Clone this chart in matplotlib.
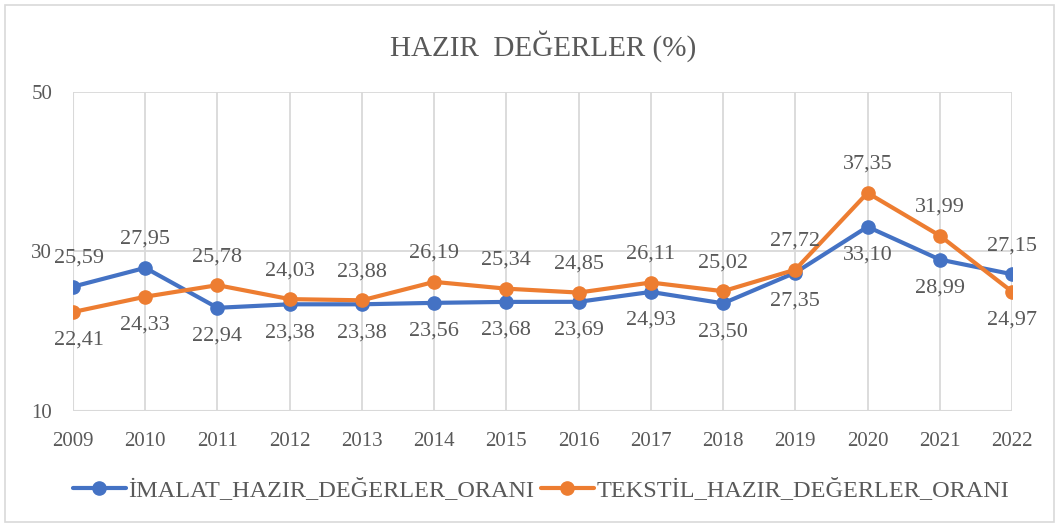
import matplotlib
matplotlib.use("Agg")
import matplotlib.pyplot as plt
from matplotlib.patches import Rectangle

years = ["2009", "2010", "2011", "2012", "2013", "2014", "2015", "2016",
         "2017", "2018", "2019", "2020", "2021", "2022"]
imalat = [25.59, 27.95, 22.94, 23.38, 23.38, 23.56, 23.68, 23.69,
          24.93, 23.50, 27.35, 33.10, 28.99, 27.15]
tekstil = [22.41, 24.33, 25.78, 24.03, 23.88, 26.19, 25.34, 24.85,
           26.11, 25.02, 27.72, 37.35, 31.99, 24.97]
series_names = ["İMALAT_HAZIR_DEĞERLER_ORANI", "TEKSTİL_HAZIR_DEĞERLER_ORANI"]
title = "HAZIR  DEĞERLER (%)"
yticks = [10, 30, 50]

plt.rcParams['font.family'] = ['Liberation Serif', 'DejaVu Serif']
txt = "#595959"
grid = "#D9D9D9"
colors = ["#4472C4", "#ED7D31"]

fig = plt.figure(figsize=(10.59, 5.26), dpi=100)
ax = fig.add_axes([73/1059, 1-411/526, (1012-73)/1059, (411-92)/526])

x = list(range(len(years)))
series = [imalat, tekstil]
for i, (vals, c, name) in enumerate(zip(series, colors, series_names)):
    ax.plot(x, vals, color=c, lw=3, marker='o', ms=9.5, label=name, zorder=3,
            solid_capstyle='round')
    other = series[1 - i]
    for xi, v, o in zip(x, vals, other):
        up = v >= o
        dx = 4.5 if xi == 0 else 0
        ax.annotate(f"{v:.2f}".replace(".", ","), (xi, v),
                    xytext=(dx, 20.5 if up else -20.5), textcoords="offset points",
                    ha="center", va="center", fontsize=16, color=txt, zorder=4)

ax.set_xlim(0, len(years) - 1)
ax.set_ylim(10, 50)
ax.set_yticks(yticks)
ax.set_xticks(x)
ax.set_xticklabels(years)
ax.tick_params(axis='both', length=0, labelsize=15, labelcolor=txt)
ax.tick_params(axis='x', pad=15)
ax.tick_params(axis='y', pad=15)
ax.grid(True, color=grid, lw=1.3)
ax.set_axisbelow(True)
for s in ax.spines.values():
    s.set_visible(False)
ax.axhline(10, color=grid, lw=1.5, zorder=1)
ax.axvline(0, color=grid, lw=1.5, zorder=1)

fig.text(543/1059, 1-46/526, title, ha="center", va="center", fontsize=21, color=txt)

leg = fig.legend(loc="center", bbox_to_anchor=(541/1059, 1-490/526), ncol=2,
                 frameon=False, fontsize=17.5, handlelength=2.2, columnspacing=0.25,
                 handletextpad=0.1, labelcolor=txt)

fig.patches.append(Rectangle((5/1059, 4/526), 1049/1059, 517/526, transform=fig.transFigure,
                             fill=False, edgecolor="#D9D9D9", lw=1.2))

fig.savefig("out.png", dpi=100)
